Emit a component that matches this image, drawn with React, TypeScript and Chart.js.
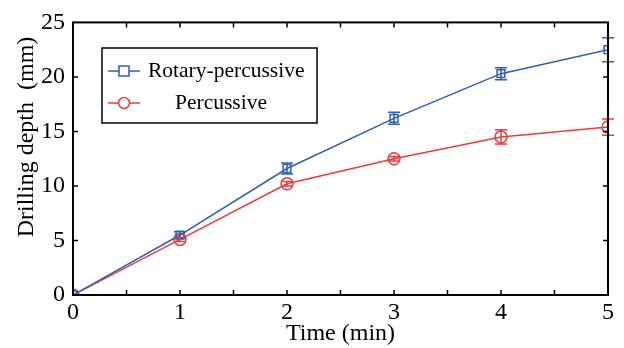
import React, { useEffect, useRef } from "react";
import { Chart, registerables } from "chart.js";

Chart.register(...registerables);

const times = [0, 1, 2, 3, 4, 5];
const rotaryValues = [0, 5.5, 11.6, 16.2, 20.3, 22.5];
const rotaryErrors = [0, 0.3, 0.5, 0.55, 0.55, 1.1];
const percussiveValues = [0, 5.1, 10.2, 12.5, 14.5, 15.4];
const percussiveErrors = [0, 0.2, 0.2, 0.2, 0.65, 0.75];
const xTicks = [0, 1, 2, 3, 4, 5];
const yTicks = [0, 5, 10, 15, 20, 25];
const seriesNames = ["Rotary-percussive", "Percussive"];
const xTitle = "Time (min)";
const yTitle = "Drilling depth  (mm)";

const BLUE = "#2f5fae";
const RED = "#f03a3a";
const FONT = "'Liberation Serif', 'Times New Roman', serif";

const errorBarPlugin = {
  id: "errorBars",
  afterDatasetsDraw(chart: any) {
    const ctx = chart.ctx;
    const x = chart.scales.x;
    const y = chart.scales.y;
    const sets = [
      { v: rotaryValues, e: rotaryErrors, c: BLUE },
      { v: percussiveValues, e: percussiveErrors, c: RED },
    ];
    ctx.save();
    ctx.lineWidth = 1.5;
    sets.forEach((s) => {
      ctx.strokeStyle = s.c;
      times.forEach((t, i) => {
        if (!s.e[i]) return;
        const px = x.getPixelForValue(t);
        const top = y.getPixelForValue(s.v[i] + s.e[i]);
        const bot = y.getPixelForValue(s.v[i] - s.e[i]);
        ctx.beginPath();
        ctx.moveTo(px, top);
        ctx.lineTo(px, bot);
        ctx.moveTo(px - 6, top);
        ctx.lineTo(px + 6, top);
        ctx.moveTo(px - 6, bot);
        ctx.lineTo(px + 6, bot);
        ctx.stroke();
      });
    });
    ctx.restore();
  },
};

const framePlugin = {
  id: "frame",
  afterDraw(chart: any) {
    const ctx = chart.ctx;
    const a = chart.chartArea;
    const x = chart.scales.x;
    const y = chart.scales.y;
    ctx.save();
    ctx.strokeStyle = "#000";
    ctx.lineWidth = 2;
    ctx.strokeRect(a.left, a.top, a.right - a.left, a.bottom - a.top);
    ctx.lineWidth = 1.5;
    ctx.beginPath();
    for (let t = 0.5; t < 5; t += 0.5) {
      const px = x.getPixelForValue(t);
      ctx.moveTo(px, a.bottom);
      ctx.lineTo(px, a.bottom - 5);
      ctx.moveTo(px, a.top);
      ctx.lineTo(px, a.top + 5);
    }
    yTicks.forEach((v) => {
      if (v === 0 || v === 25) return;
      const py = y.getPixelForValue(v);
      ctx.moveTo(a.right, py);
      ctx.lineTo(a.right - 5, py);
      ctx.moveTo(a.left, py);
      ctx.lineTo(a.left + 5, py);
    });
    ctx.stroke();

    // y axis title
    ctx.save();
    ctx.translate(27, 137);
    ctx.rotate(-Math.PI / 2);
    ctx.fillStyle = "#000";
    ctx.font = `24px ${FONT}`;
    ctx.textAlign = "center";
    ctx.textBaseline = "middle";
    ctx.fillText(yTitle, 0, 0);
    ctx.restore();

    // legend
    const lx = 102, ly = 48, lw = 215, lh = 75;
    ctx.fillStyle = "#fff";
    ctx.fillRect(lx, ly, lw, lh);
    ctx.lineWidth = 1.5;
    ctx.strokeStyle = "#000";
    ctx.strokeRect(lx, ly, lw, lh);
    const rows = [
      { c: BLUE, y: 71, name: seriesNames[0], tx: 148, shape: "rect" },
      { c: RED, y: 103, name: seriesNames[1], tx: 175, shape: "circle" },
    ];
    rows.forEach((r) => {
      ctx.strokeStyle = r.c;
      ctx.lineWidth = 1.5;
      ctx.beginPath();
      ctx.moveTo(108, r.y);
      ctx.lineTo(140, r.y);
      ctx.stroke();
      ctx.beginPath();
      if (r.shape === "rect") ctx.rect(119, r.y - 5, 10, 10);
      else ctx.arc(124, r.y, 5.5, 0, Math.PI * 2);
      ctx.fillStyle = "#fff";
      ctx.fill();
      ctx.stroke();
      ctx.fillStyle = "#000";
      ctx.font = `21.5px ${FONT}`;
      ctx.textBaseline = "middle";
      ctx.textAlign = "left";
      ctx.fillText(r.name, r.tx, r.y);
    });
    ctx.restore();
  },
};

export default function App() {
  const ref = useRef<HTMLCanvasElement>(null);
  useEffect(() => {
    document.body.style.margin = "0";
    const chart = new Chart(ref.current!, {
      type: "line",
      data: {
        datasets: [
          {
            label: seriesNames[0],
            data: times.map((t, i) => ({ x: t, y: rotaryValues[i] })),
            borderColor: BLUE,
            backgroundColor: "#fff",
            borderWidth: 1.5,
            pointStyle: "rect",
            pointRadius: 5.5,
            pointBorderWidth: 1.5,
            pointBorderColor: BLUE,
            pointBackgroundColor: "rgba(255,255,255,0)",
          },
          {
            label: seriesNames[1],
            data: times.map((t, i) => ({ x: t, y: percussiveValues[i] })),
            borderColor: RED,
            backgroundColor: "#fff",
            borderWidth: 1.5,
            pointStyle: "circle",
            pointRadius: 6,
            pointBorderWidth: 1.5,
            pointBorderColor: RED,
            pointBackgroundColor: "rgba(255,255,255,0)",
          },
        ],
      },
      options: {
        animation: false,
        responsive: false,
        maintainAspectRatio: false,
        layout: { padding: { top: 21, right: 16, left: 0, bottom: 0 } },
        plugins: { legend: { display: false }, tooltip: { enabled: false } },
        scales: {
          x: {
            type: "linear",
            min: 0,
            max: 5,
            afterBuildTicks: (s: any) => {
              s.ticks = xTicks.map((v) => ({ value: v }));
            },
            afterFit: (s: any) => {
              s.height = 53;
            },
            grid: { display: false, drawTicks: false },
            border: { display: false },
            ticks: {
              color: "#000",
              font: { family: FONT, size: 24 },
              padding: 3,
              maxRotation: 0,
            },
            title: {
              display: true,
              text: xTitle,
              color: "#000",
              font: { family: FONT, size: 24 },
              padding: { top: 0, bottom: 0 },
            },
          },
          y: {
            type: "linear",
            min: 0,
            max: 25,
            afterBuildTicks: (s: any) => {
              s.ticks = yTicks.map((v) => ({ value: v }));
            },
            afterFit: (s: any) => {
              s.width = 73;
            },
            grid: { display: false, drawTicks: false },
            border: { display: false },
            ticks: {
              color: "#000",
              font: { family: FONT, size: 24 },
              padding: 8,
            },
            title: { display: false },
          },
        },
      },
      plugins: [errorBarPlugin, framePlugin],
    });
    return () => chart.destroy();
  }, []);
  return <canvas ref={ref} width={624} height={348} style={{ display: "block" }} />;
}
